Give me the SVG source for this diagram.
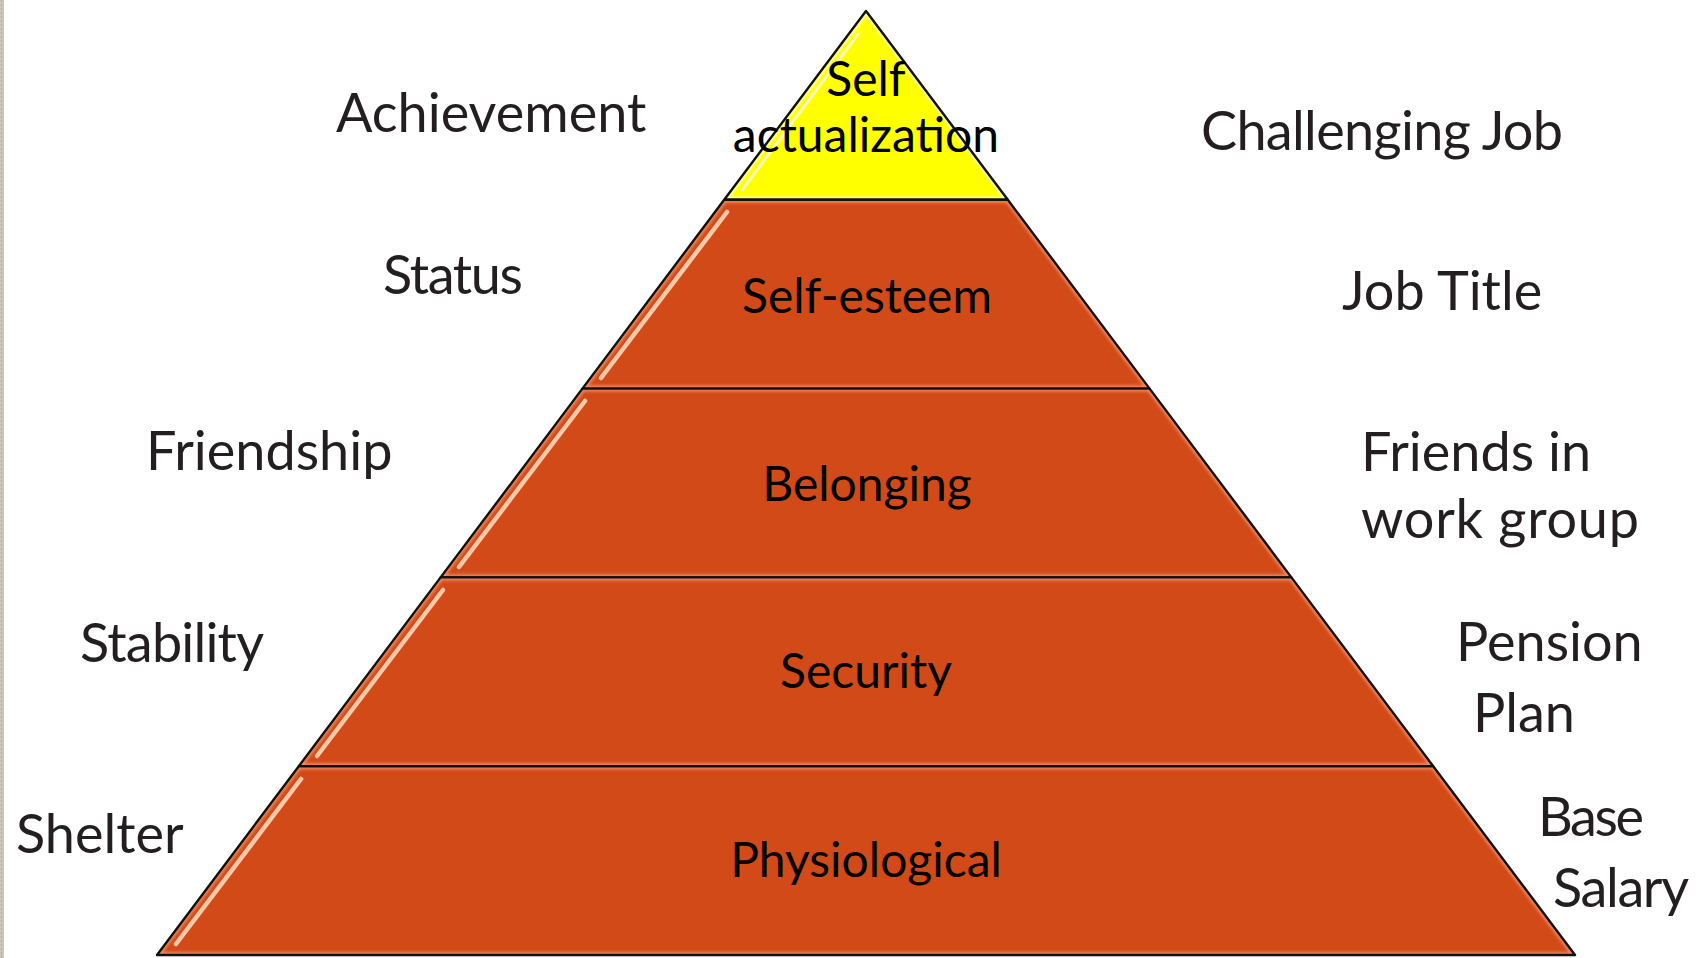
<svg xmlns="http://www.w3.org/2000/svg" width="1708" height="958" viewBox="0 0 1708 958">
  <style>
    .band { fill: #D14A17; }
    .apex { fill: #FFFF00; }
    .rim { fill: none; stroke: #F08A5E; stroke-width: 6; filter: url(#soft); }
    .rimY { fill: none; stroke: #FFFFB0; stroke-width: 6; filter: url(#soft); }
    .edge { fill: none; stroke: #111; stroke-width: 2.4; stroke-linejoin: round; }
    .gloss { fill: none; stroke: #FCC9AA; stroke-width: 4.5; stroke-linecap: round; filter: url(#glow); }
    .glossY { fill: none; stroke: #FFFFE8; stroke-width: 3; stroke-linecap: round; filter: url(#glow); opacity: 0.8; }
    .lbl { font-family: Lato, "Open Sans", sans-serif; font-size: 54px; fill: #231F20; }
    .lvl { font-family: Lato, "Open Sans", sans-serif; font-size: 48px; fill: #000; text-anchor: middle; }
  </style>
  <defs>
    <filter id="soft" x="-5%" y="-5%" width="110%" height="110%">
      <feGaussianBlur stdDeviation="1.6"/>
    </filter>
    <filter id="glow" x="-20%" y="-5%" width="140%" height="110%">
      <feGaussianBlur stdDeviation="0.7"/>
    </filter>
    <clipPath id="c0"><polygon points="866,11 1007.8,199.8 724.2,199.8"/></clipPath>
    <clipPath id="c1"><polygon points="724.2,199.8 1007.8,199.8 1149.6,388.6 582.4,388.6"/></clipPath>
    <clipPath id="c2"><polygon points="582.4,388.6 1149.6,388.6 1291.4,577.4 440.6,577.4"/></clipPath>
    <clipPath id="c3"><polygon points="440.6,577.4 1291.4,577.4 1433.2,766.2 298.8,766.2"/></clipPath>
    <clipPath id="c4"><polygon points="298.8,766.2 1433.2,766.2 1575,955 157,955"/></clipPath>
  </defs>

  <rect width="1708" height="958" fill="#FFFFFF"/>
  <!-- textured page margin on the left -->
  <rect x="0" y="0" width="4" height="958" fill="#CBC7B8"/>
  <line x1="1.5" y1="0" x2="1.5" y2="958" stroke="#B3AE9E" stroke-width="1" stroke-dasharray="2 2"/>

  <!-- pyramid levels -->
  <g id="level-self-actualization">
    <polygon class="apex" points="866,11 1007.8,199.8 724.2,199.8"/>
    <polygon class="rimY" clip-path="url(#c0)" points="866,11 1007.8,199.8 724.2,199.8"/>
    <line class="glossY" x1="858" y1="34" x2="742" y2="190"/>
    <polygon class="edge" points="866,11 1007.8,199.8 724.2,199.8"/>
    <text class="lvl" x="866" y="96" font-size="46">Self</text>
    <text class="lvl" x="866" y="152" font-size="46.5">actualization</text>
  </g>

  <g id="level-self-esteem">
    <polygon class="band" points="724.2,199.8 1007.8,199.8 1149.6,388.6 582.4,388.6"/>
    <polygon class="rim" clip-path="url(#c1)" points="724.2,199.8 1007.8,199.8 1149.6,388.6 582.4,388.6"/>
    <line class="gloss" x1="727" y1="212" x2="601" y2="378"/>
    <polygon class="edge" points="724.2,199.8 1007.8,199.8 1149.6,388.6 582.4,388.6"/>
    <text class="lvl" x="867" y="313">Self-esteem</text>
  </g>

  <g id="level-belonging">
    <polygon class="band" points="582.4,388.6 1149.6,388.6 1291.4,577.4 440.6,577.4"/>
    <polygon class="rim" clip-path="url(#c2)" points="582.4,388.6 1149.6,388.6 1291.4,577.4 440.6,577.4"/>
    <line class="gloss" x1="585" y1="401" x2="459" y2="567"/>
    <polygon class="edge" points="582.4,388.6 1149.6,388.6 1291.4,577.4 440.6,577.4"/>
    <text class="lvl" x="867" y="501">Belonging</text>
  </g>

  <g id="level-security">
    <polygon class="band" points="440.6,577.4 1291.4,577.4 1433.2,766.2 298.8,766.2"/>
    <polygon class="rim" clip-path="url(#c3)" points="440.6,577.4 1291.4,577.4 1433.2,766.2 298.8,766.2"/>
    <line class="gloss" x1="443" y1="590" x2="317" y2="756"/>
    <polygon class="edge" points="440.6,577.4 1291.4,577.4 1433.2,766.2 298.8,766.2"/>
    <text class="lvl" x="866" y="688">Security</text>
  </g>

  <g id="level-physiological">
    <polygon class="band" points="298.8,766.2 1433.2,766.2 1575,955 157,955"/>
    <polygon class="rim" clip-path="url(#c4)" points="298.8,766.2 1433.2,766.2 1575,955 157,955"/>
    <line class="gloss" x1="301" y1="779" x2="176" y2="944"/>
    <polygon class="edge" points="298.8,766.2 1433.2,766.2 1575,955 157,955"/>
    <text class="lvl" x="866" y="877">Physiological</text>
  </g>

  <!-- need examples, left side -->
  <g id="labels-left">
    <text class="lbl" x="336" y="132">Achievement</text>
    <text class="lbl" x="383" y="294" textLength="140">Status</text>
    <text class="lbl" x="146" y="470">Friendship</text>
    <text class="lbl" x="80" y="662" textLength="184">Stability</text>
    <text class="lbl" x="16" y="853">Shelter</text>
  </g>

  <!-- workplace examples, right side -->
  <g id="labels-right">
    <text class="lbl" x="1201" y="150" textLength="362">Challenging Job</text>
    <text class="lbl" x="1342" y="310">Job Title</text>
    <text class="lbl" x="1361" y="471">Friends in</text>
    <text class="lbl" x="1361" y="538" textLength="278">work group</text>
    <text class="lbl" x="1456" y="661">Pension</text>
    <text class="lbl" x="1473" y="732">Plan</text>
    <text class="lbl" x="1538" y="836" textLength="106">Base</text>
    <text class="lbl" x="1553" y="907" textLength="136">Salary</text>
  </g>
</svg>
